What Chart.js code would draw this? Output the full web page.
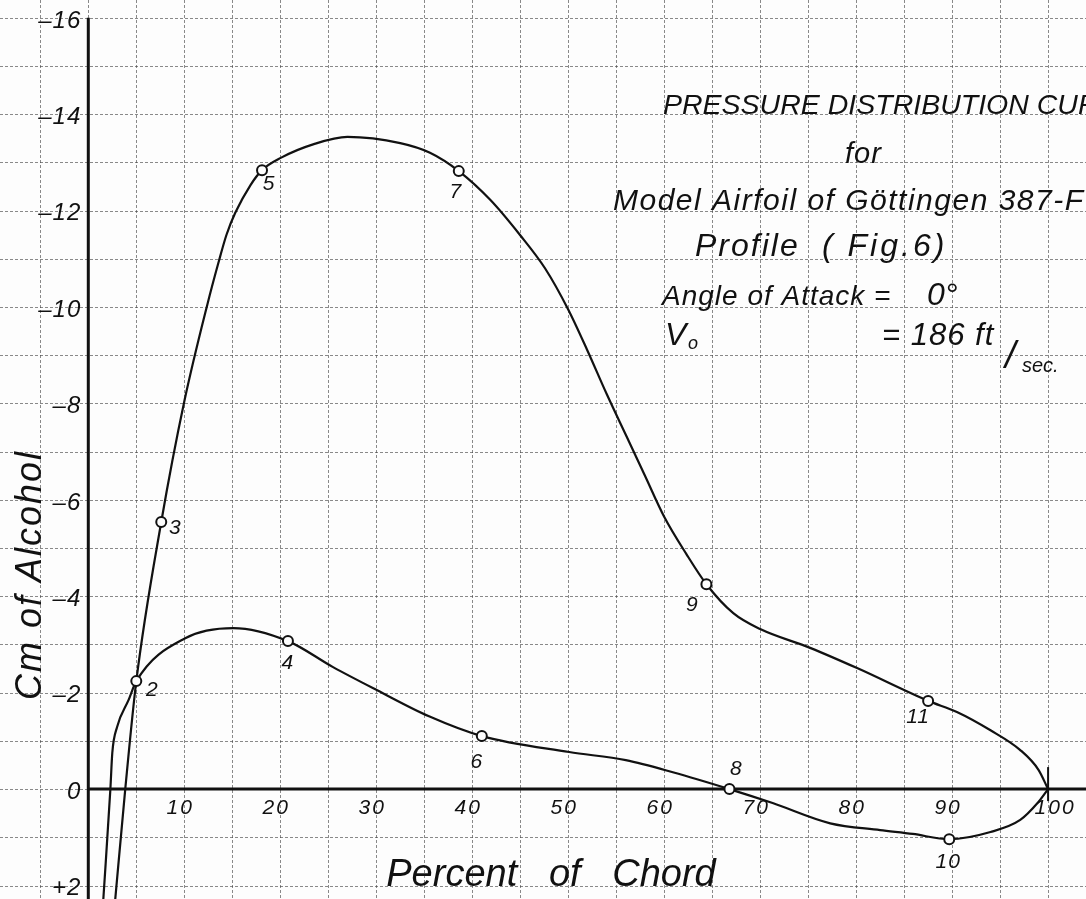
<!DOCTYPE html>
<html>
<head>
<meta charset="utf-8">
<script src="https://cdn.jsdelivr.net/npm/chart.js@4.4.1/dist/chart.umd.min.js"></script>
<style>
  html, body { margin: 0; padding: 0; background: #fdfdfd; }
  #wrap { width: 1086px; height: 899px; }
</style>
</head>
<body>
<div id="wrap"><canvas id="graphCanvas" width="1086" height="899"></canvas></div>
<script>
// upper surface (odd stations)
const upperX = [2.8, 3.85, 5.0, 7.6, 10.0, 12.4, 13.6, 14.4, 15.3, 16.9, 18.1, 20.1, 23.5, 27.0, 32.5, 35.6, 38.6, 41.9, 45.0, 47.6, 50.0, 52.0, 54.0, 56.0, 58.0, 60.0, 62.3, 64.4, 67.2, 70.0, 75.2, 80.1, 87.5, 90.5, 94.0, 97.1, 99.0, 100];
const upperY = [2.3, 0, -2.24, -5.54, -8.04, -10.05, -10.95, -11.5, -11.95, -12.53, -12.84, -13.1, -13.38, -13.53, -13.4, -13.2, -12.82, -12.22, -11.49, -10.8, -9.95, -9.1, -8.2, -7.35, -6.5, -5.65, -4.88, -4.25, -3.65, -3.32, -2.93, -2.51, -1.83, -1.60, -1.22, -0.81, -0.4, 0];

// lower surface (even stations)
const lowerX = [1.56, 2.3, 2.5, 3.0, 4.2, 5.0, 10.1, 15.1, 20.8, 25.5, 30.1, 35.5, 41.0, 50.1, 56.0, 60.9, 66.8, 71.3, 77.3, 82.5, 85.9, 89.7, 94.0, 97.1, 98.9, 100];
const lowerY = [2.3, 0, -0.75, -1.29, -1.85, -2.24, -3.13, -3.34, -3.07, -2.53, -2.05, -1.51, -1.10, -0.77, -0.60, -0.35, 0, 0.29, 0.71, 0.85, 0.93, 1.04, 0.89, 0.64, 0.29, 0];

// measured stations (orifice numbers)
const stationNo = [2, 3, 4, 5, 6, 7, 8, 9, 10, 11];
const stationX = [5.0, 7.6, 20.8, 18.1, 41.0, 38.6, 66.8, 64.4, 89.7, 87.5];
const stationY = [-2.24, -5.54, -3.07, -12.84, -1.10, -12.82, 0, -4.25, 1.04, -1.83];

const xTicks = [10, 20, 30, 40, 50, 60, 70, 80, 90, 100];
const yTicks = [-16, -14, -12, -10, -8, -6, -4, -2, 0, 2];
const xTitle = 'Percent of Chord';
const yTitle = 'Cm of Alcohol';

const ink = '#111';
const hand = '"Liberation Sans", "DejaVu Sans", sans-serif';

function pts(xs, ys) {
  return xs.map((x, i) => ({ x: x, y: ys[i] }));
}

// where each station number sits relative to its circle
const labelOffset = {
  2: [16, 9], 3: [14, 6], 4: [0, 22], 5: [7, 14], 6: [-5, 26],
  7: [-3, 21], 8: [7, -20], 9: [-14, 21], 10: [-1, 23], 11: [-10, 16]
};

function txt(c, s, x, y, font, spacing) {
  c.font = font;
  c.letterSpacing = (spacing || 0) + 'px';
  c.fillText(s, x, y);
  c.letterSpacing = '0px';
}

const paper = {
  id: 'paper',
  beforeDraw(chart) {
    const c = chart.ctx;
    c.save();
    c.fillStyle = '#fdfdfd';
    c.fillRect(0, 0, chart.width, chart.height);
    c.restore();
  },
  beforeDatasetsDraw(chart) {
    const c = chart.ctx;
    const sx = chart.scales.x, sy = chart.scales.y;
    const W = chart.width, H = chart.height;
    c.save();
    // squared paper
    c.strokeStyle = 'rgba(60,60,60,0.6)';
    c.lineWidth = 1;
    c.setLineDash([3, 2]);
    for (let v = -5; v <= 100; v += 5) {
      const px = Math.round(sx.getPixelForValue(v)) + 0.5;
      c.beginPath(); c.moveTo(px, 0); c.lineTo(px, H); c.stroke();
    }
    for (let v = -16; v <= 2; v += 1) {
      const py = Math.round(sy.getPixelForValue(v)) + 0.5;
      c.beginPath(); c.moveTo(0, py); c.lineTo(W, py); c.stroke();
    }
    c.setLineDash([]);
    // axes
    const x0 = sx.getPixelForValue(0), y0 = sy.getPixelForValue(0);
    c.strokeStyle = ink;
    c.lineWidth = 3;
    c.beginPath(); c.moveTo(x0, sy.getPixelForValue(-16)); c.lineTo(x0, H); c.stroke();
    c.beginPath(); c.moveTo(x0, y0); c.lineTo(W, y0); c.stroke();
    const x100 = sx.getPixelForValue(100);
    c.lineWidth = 2;
    c.beginPath(); c.moveTo(x100, y0 - 22); c.lineTo(x100, y0 + 12); c.stroke();
    c.restore();
  },
  afterDatasetsDraw(chart) {
    const c = chart.ctx;
    const sx = chart.scales.x, sy = chart.scales.y;
    const x0 = sx.getPixelForValue(0), y0 = sy.getPixelForValue(0);
    c.save();
    c.fillStyle = ink;

    // y tick labels
    c.textAlign = 'right';
    c.textBaseline = 'middle';
    yTicks.forEach(v => {
      const t = v > 0 ? '+' + v : (v < 0 ? '\u2013' + (-v) : '0');
      txt(c, t, x0 - 7, sy.getPixelForValue(v) + 3, 'italic 24px ' + hand, 1);
    });

    // x tick labels
    c.textAlign = 'center';
    xTicks.forEach(v => {
      const dx = v === 100 ? 7 : -4;
      txt(c, String(v), sx.getPixelForValue(v) + dx, y0 + 19, 'italic 21px ' + hand, 2);
    });

    // station numbers
    stationNo.forEach((n, i) => {
      const o = labelOffset[n];
      txt(c, String(n), sx.getPixelForValue(stationX[i]) + o[0], sy.getPixelForValue(stationY[i]) + o[1], 'italic 21px ' + hand, 1);
    });

    // axis titles
    c.textAlign = 'center';
    c.textBaseline = 'alphabetic';
    txt(c, xTitle.split(' ').join('   '), 551, 886, 'italic 38px ' + hand, 0);
    c.save();
    c.translate(41, 575);
    c.rotate(-Math.PI / 2);
    txt(c, yTitle, 0, 0, 'italic 36px ' + hand, 2);
    c.restore();

    // title block
    c.textAlign = 'left';
    txt(c, 'PRESSURE DISTRIBUTION CURVE', 663, 114, 'italic 28.5px ' + hand, 0);
    txt(c, 'for', 845, 163, 'italic 29px ' + hand, 1);
    txt(c, 'Model Airfoil of Göttingen 387-F', 613, 210, 'italic 30px ' + hand, 1.5);
    txt(c, 'Profile', 695, 256, 'italic 32px ' + hand, 2);
    txt(c, '( Fig.6)', 822, 256, 'italic 32px ' + hand, 3);
    txt(c, 'Angle of Attack =', 662, 305, 'italic 28px ' + hand, 1);
    txt(c, '0°', 927, 305, 'italic 32px ' + hand, 0);
    txt(c, 'V', 665, 345, 'italic 32px ' + hand, 0);
    txt(c, 'o', 688, 349, 'italic 18px ' + hand, 0);
    txt(c, '= 186 ft', 882, 345, 'italic 31px ' + hand, 1);
    txt(c, '/', 1005, 368, 'italic 38px ' + hand, 0);
    txt(c, 'sec.', 1022, 372, 'italic 20px ' + hand, 0);
    c.restore();
  }
};

const ctx = document.getElementById('graphCanvas').getContext('2d');
const chart = new Chart(ctx, {
  type: 'scatter',
  data: {
    datasets: [
      {
        label: 'Stations',
        data: pts(stationX, stationY),
        pointRadius: 5,
        pointBorderWidth: 2,
        pointBorderColor: ink,
        pointBackgroundColor: '#fdfdfd',
        showLine: false
      },
      {
        label: 'Upper surface',
        data: pts(upperX, upperY),
        showLine: true,
        borderColor: ink,
        borderWidth: 2.2,
        pointRadius: 0,
        cubicInterpolationMode: 'monotone',
        fill: false
      },
      {
        label: 'Lower surface',
        data: pts(lowerX, lowerY),
        showLine: true,
        borderColor: ink,
        borderWidth: 2.2,
        pointRadius: 0,
        cubicInterpolationMode: 'monotone',
        fill: false
      }
    ]
  },
  options: {
    responsive: false,
    animation: false,
    layout: { padding: 0, autoPadding: false },
    plugins: { legend: { display: false }, tooltip: { enabled: false } },
    scales: {
      x: { type: 'linear', min: -9.2, max: 103.95, display: false },
      y: { type: 'linear', min: -16.37, max: 2.28, reverse: true, display: false }
    }
  },
  plugins: [paper]
});
</script>
</body>
</html>
